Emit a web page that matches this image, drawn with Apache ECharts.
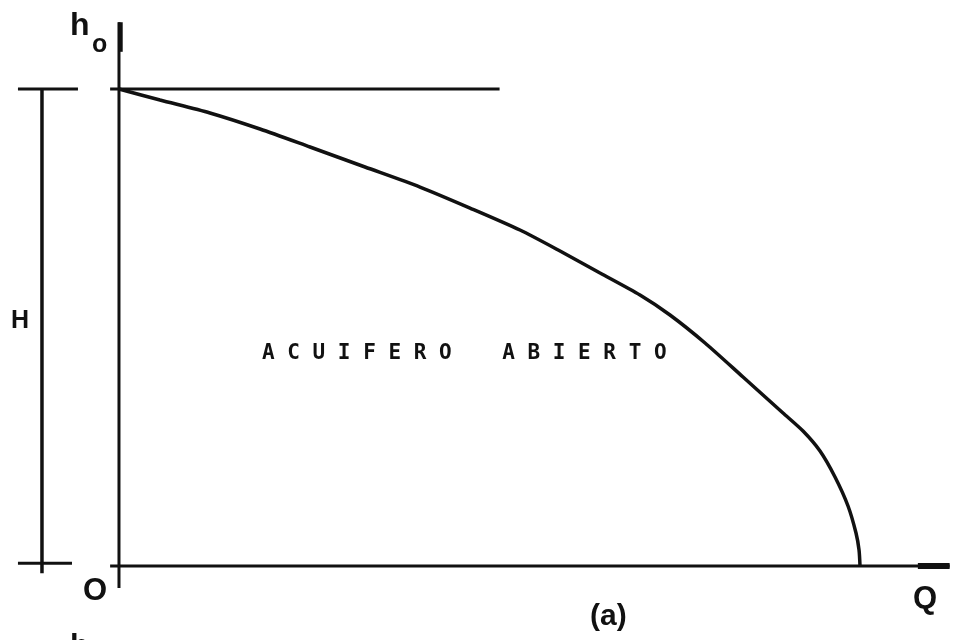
<!DOCTYPE html>
<html>
<head>
<meta charset="utf-8">
<script src="https://cdn.jsdelivr.net/npm/echarts@6/dist/echarts.min.js"></script>
<style>
html,body{margin:0;padding:0;background:#fff;}
#chart{width:954px;height:640px;}
</style>
</head>
<body>
<div id="chart"></div>
<script>
// Curve h(Q) for the open aquifer (normalized: H = 1, Qmax = 1)
const curveQ = [0, 0.0555, 0.1231, 0.1908, 0.2585, 0.3329, 0.4073, 0.4750, 0.5426, 0.5968, 0.6509, 0.7050, 0.7456, 0.7930, 0.8444, 0.8985, 0.9256, 0.9486, 0.9689, 0.9865, 0.9973, 1.0014, 1.0027];
const curveH = [1, 0.9769, 0.9497, 0.9161, 0.8784, 0.8365, 0.7945, 0.7505, 0.7044, 0.6604, 0.6143, 0.5681, 0.5262, 0.4675, 0.3962, 0.3208, 0.2830, 0.2411, 0.1866, 0.1258, 0.0692, 0.0335, 0];
const labelTexts = {
  yAxis: 'h', ySub: 'o', origin: 'O', xAxis: 'Q', caption: '(a)', dim: 'H',
  region: 'A C U I F E R O    A B I E R T O', cut: 'h'
};

const chart = echarts.init(document.getElementById('chart'), null, {renderer: 'canvas'});
const black = '#111';
function seg(pts, w) {
  return {
    type: 'line', data: pts, symbol: 'none', silent: true, animation: false,
    lineStyle: {color: black, width: w, cap: 'butt'}, z: 2
  };
}
const curve = curveQ.map((q, i) => [q, curveH[i]]);
const font = 'Liberation Sans, Arial, sans-serif';

chart.setOption({
  backgroundColor: '#ffffff',
  animation: false,
  grid: {left: 0, right: 0, top: 0, bottom: 0},
  xAxis: {type: 'value', min: -0.161, max: 1.1299, show: false},
  yAxis: {type: 'value', min: -0.1551, max: 1.1866, show: false},
  series: [
    // vertical axis h
    seg([[0, -0.046], [0, 1.14]], 3),
    seg([[0.002, 1.078], [0.002, 1.14]], 4.5),
    // horizontal axis Q
    seg([[-0.012, 0], [1.124, 0]], 3),
    seg([[1.081, 0], [1.124, 0]], 6),
    // top level line h0
    seg([[-0.012, 1], [0.515, 1]], 3),
    // dimension line H
    seg([[-0.1042, -0.015], [-0.1042, 1.0]], 3.5),
    seg([[-0.1367, 1], [-0.0555, 1]], 3),
    seg([[-0.1367, 0.006], [-0.0636, 0.006]], 3),
    // curve
    {
      type: 'line', data: curve, symbol: 'none', smooth: 0.25, silent: true,
      lineStyle: {color: black, width: 3.5}, z: 3
    }
  ],
  graphic: [
    {type: 'text', left: 70, top: 10, style: {text: labelTexts.yAxis, font: 'bold 32px ' + font, fill: black}},
    {type: 'text', left: 92, top: 33, style: {text: labelTexts.ySub, font: 'bold 25px ' + font, fill: black}},
    {type: 'text', left: 83, top: 576, style: {text: labelTexts.origin, font: 'bold 31px ' + font, fill: black}},
    {type: 'text', left: 913, top: 584, style: {text: labelTexts.xAxis, font: 'bold 31px ' + font, fill: black}},
    {type: 'text', left: 590, top: 602, style: {text: labelTexts.caption, font: 'bold 30px ' + font, fill: black}},
    {type: 'text', left: 11, top: 309, style: {text: labelTexts.dim, font: 'bold 25px "Liberation Sans Narrow", ' + font, fill: black}},
    {type: 'text', left: 262, top: 343, style: {text: labelTexts.region, font: 'bold 21px "DejaVu Sans Mono", monospace', fill: black}},
    {type: 'text', left: 70, top: 632, style: {text: labelTexts.cut, font: 'bold 31px ' + font, fill: black}}
  ]
});
</script>
</body>
</html>
